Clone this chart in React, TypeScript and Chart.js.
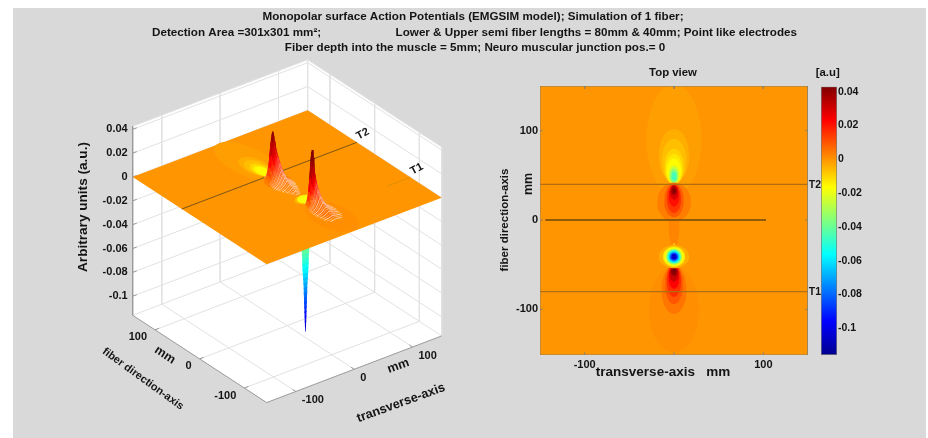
import React, { useEffect, useRef } from "react";
import { Chart, registerables } from "chart.js";

Chart.register(...registerables);

// ---------- data ----------
const titleLines = [
  "Monopolar surface Action Potentials (EMGSIM model); Simulation of 1 fiber;",
  "Detection Area =301x301 mm²;",
  "Lower & Upper semi fiber lengths = 80mm & 40mm; Point like electrodes",
  "Fiber depth into the muscle = 5mm; Neuro muscular junction pos.= 0",
];
const zTicks = [0.04, 0.02, 0, -0.02, -0.04, -0.06, -0.08, -0.1];
const zTickLabels = ["0.04", "0.02", "0", "-0.02", "-0.04", "-0.06", "-0.08", "-0.1"];
const planTicks = [-100, 0, 100];
const colorTicks = [0.04, 0.02, 0, -0.02, -0.04, -0.06, -0.08, -0.1];
const colorTickLabels = ["0.04", "0.02", "0", "-0.02", "-0.04", "-0.06", "-0.08", "-0.1"];
const topXLabels = [-100, 100];
const topYLabels = [100, 0, -100];
const zMin = -0.116;
const zMax = 0.0425;
const colorMin = -0.1158;
const colorMax = 0.043;
const t1Pos = -80;
const t2Pos = 40;
const zeroLineX = [-144, 103];

const jetFractions = [0, 0.125, 0.375, 0.625, 0.875, 1];
const jetColors = [
  [0, 0, 143],
  [0, 0, 255],
  [0, 255, 255],
  [255, 255, 0],
  [255, 0, 0],
  [128, 0, 0],
];

// contour lobes of the field, in paint order
const lobeY = [90, 72, 66, 60, 57, 55, 51, 49.5, 49, 20, -5, 22, 24, 27, 31, 33, 33, -100, -78, -72, -68, -64, -60, -57, -56, -32, -41, -41, -41, -41, -41, -41, -41, -41];
const lobeRx = [31, 17, 14, 11, 9.5, 8, 6, 4.5, 3, 19, 6, 11, 8, 6, 4.5, 3.5, 2, 28, 14, 10, 8, 6, 5, 3.5, 2, 2.5, 17, 12.5, 11, 9, 7.5, 6, 4.5, 3];
const lobeRy = [62, 30, 25, 20, 17, 14, 10, 8, 5, 22, 26, 19, 16, 12, 8, 5, 3, 48, 27, 22, 18, 13, 9, 5.5, 3, 6, 13, 11.5, 10.5, 9, 7.5, 6, 4.5, 3];
const lobeV = [-0.0015, -0.004, -0.0065, -0.0095, -0.013, -0.016, -0.024, -0.035, -0.045, 0.0035, 0.0025, 0.009, 0.015, 0.021, 0.029, 0.036, 0.042, 0.001, 0.005, 0.01, 0.016, 0.023, 0.031, 0.04, 0.044, -0.008, -0.004, -0.012, -0.018, -0.03, -0.05, -0.065, -0.085, -0.105];

// ridge crests seen in the 3-D view
const peak1Y = [41, 40, 39, 38, 37, 36, 35, 34, 33, 32, 31, 30, 28, 26, 24, 22, 20, 18, 16, 14, 12, 10, 8, 6, 4, 2, 0, -3, -6, -9, -12, -15, -18, -21, -24];
const peak1Z = [0.002, 0.006, 0.012, 0.018, 0.024, 0.029, 0.033, 0.036, 0.038, 0.039, 0.038, 0.036, 0.032, 0.028, 0.025, 0.022, 0.02, 0.018, 0.016, 0.014, 0.012, 0.011, 0.0095, 0.0085, 0.0075, 0.0065, 0.0055, 0.0045, 0.0038, 0.0032, 0.0026, 0.002, 0.0015, 0.001, 0.0005];
const peak1W = [7, 8, 8, 9, 9, 9, 9, 9, 9, 9, 9, 10, 11, 12, 14, 15, 15, 16, 16, 17, 17, 17, 17, 17, 16, 16, 15, 14, 13, 12, 10, 9, 7, 6, 4];
const peak2Y = [-49, -50, -51, -52, -53, -54, -55, -56, -57, -58, -59, -60, -62, -64, -66, -68, -70, -72, -75, -78, -81, -84, -87, -90, -94, -98, -102, -106, -110];
const peak2Z = [0.002, 0.006, 0.014, 0.024, 0.033, 0.039, 0.043, 0.045, 0.043, 0.039, 0.035, 0.031, 0.026, 0.022, 0.019, 0.0165, 0.0145, 0.0125, 0.0105, 0.009, 0.0075, 0.006, 0.005, 0.004, 0.003, 0.0022, 0.0016, 0.0012, 0.0008];
const peak2W = [6, 7, 8, 8, 8, 9, 9, 9, 9, 9, 10, 10, 11, 12, 14, 15, 15, 16, 16, 17, 17, 17, 17, 17, 16, 15, 15, 13, 10];
const ridgeFrac = [-1, -0.75, -0.5, -0.3, -0.15, 0, 0.15, 0.3, 0.5, 0.75, 1];
const ridgeLift = [0, 0.08, 0.25, 0.5, 0.8, 1, 0.8, 0.5, 0.25, 0.08, 0];

// negative spike under the sheet
const spikeZ = [-0.002, -0.006, -0.01, -0.014, -0.018, -0.022, -0.026, -0.03, -0.034, -0.038, -0.042, -0.046, -0.05, -0.054, -0.058, -0.062, -0.066, -0.07, -0.074, -0.078, -0.082, -0.086, -0.09, -0.094, -0.098, -0.102, -0.106, -0.11];
const spikeW = [9, 8.5, 8, 8, 7.5, 7.5, 7, 7, 7, 6.5, 6.5, 6, 5.5, 5.5, 5, 4.5, 4, 3.5, 3, 3, 2.5, 2.5, 2, 1.8, 1.5, 1.2, 0.9, 0.5];

// ---------- helpers ----------
const WHITE = [255, 255, 255];
const mix = (a: number[], b: number[], t: number) => a.map((v, i) => v + (b[i] - v) * t);
const rgb = (c: number[]) => `rgb(${c.map((v) => Math.round(v)).join(",")})`;
function jet(v: number) {
  const f = Math.min(1, Math.max(0, (v - colorMin) / (colorMax - colorMin)));
  for (let i = 0; i < jetFractions.length - 1; i++) {
    if (f <= jetFractions[i + 1]) {
      return mix(jetColors[i], jetColors[i + 1], (f - jetFractions[i]) / (jetFractions[i + 1] - jetFractions[i]));
    }
  }
  return jetColors[jetColors.length - 1];
}
const jetCss = (v: number) => rgb(jet(v));

// oblique view of the 3-D axes, expressed in page pixels
const project = (X: number, Y: number, z: number) => ({
  x: 287.17 + X * 0.5833 - Y * 0.4467,
  y: 187.33 - X * 0.2222 - Y * 0.291 - z * 1192,
});
const ellipse = (yc: number, rx: number, ry: number) => {
  const pts: { X: number; Y: number }[] = [];
  for (let i = 0; i < 40; i++) {
    const a = (i / 40) * Math.PI * 2;
    pts.push({ X: rx * Math.cos(a), Y: yc + ry * Math.sin(a) });
  }
  return pts;
};
const GAP = { x: NaN, y: NaN };
const polyline = (data: any[], color: string, width: number) => ({
  data,
  showLine: true,
  fill: false,
  borderColor: color,
  borderWidth: width,
  pointRadius: 0,
  tension: 0,
});
const polygon = (data: any[], color: string) => ({
  data,
  showLine: true,
  fill: "shape",
  backgroundColor: color,
  borderWidth: 0,
  borderColor: "transparent",
  pointRadius: 0,
  tension: 0,
});

type Label = { t: string; x: number; y: number; f: string; a?: CanvasTextAlign; r?: number; c?: string };
const textPlugin = (items: Label[]) => ({
  id: "pageText",
  afterDraw(chart: any) {
    const ctx = chart.ctx;
    for (const l of items) {
      ctx.save();
      ctx.translate(l.x, l.y);
      if (l.r) ctx.rotate((l.r * Math.PI) / 180);
      ctx.font = l.f;
      ctx.textAlign = l.a || "center";
      ctx.textBaseline = "middle";
      ctx.fillStyle = l.c || "#141414";
      ctx.fillText(l.t, 0, 0);
      ctx.restore();
    }
  },
});

const SANS = '"Liberation Sans", Arial, sans-serif';
const F_TITLE = `bold 11.65px ${SANS}`;
const F_TICK = `bold 11px ${SANS}`;
const F_SMALL = `bold 11.4px ${SANS}`;

// ---------- 3-D panel ----------
function sceneConfig() {
  const ds: any[] = [];
  const e = 150;
  const corner = (X: number, Y: number, z: number) => project(X, Y, z);

  ds.push(
    polygon(
      [corner(-e, e, zMax), corner(e, e, zMax), corner(e, -e, zMax), corner(e, -e, zMin), corner(-e, -e, zMin), corner(-e, e, zMin)],
      "#ffffff"
    )
  );

  const grid: any[] = [];
  for (const z of [...zTicks, zMax, zMin]) grid.push(corner(-e, e, z), corner(e, e, z), corner(e, -e, z), GAP);
  for (const p of planTicks) {
    grid.push(corner(p, e, zMax), corner(p, e, zMin), GAP);
    grid.push(corner(e, p, zMax), corner(e, p, zMin), GAP);
    grid.push(corner(p, -e, zMin), corner(p, e, zMin), GAP);
    grid.push(corner(-e, p, zMin), corner(e, p, zMin), GAP);
  }
  grid.push(corner(e, e, zMax), corner(e, e, zMin), GAP);
  grid.push(corner(e, -e, zMax), corner(e, -e, zMin), GAP);
  ds.push(polyline(grid, "#e2e2e2", 1));

  const axes: any[] = [corner(-e, e, zMax), corner(-e, e, zMin), corner(-e, -e, zMin), corner(e, -e, zMin), GAP];
  for (const z of zTicks) axes.push(corner(-e, e, z), corner(-e + 7, e, z), GAP);
  for (const p of planTicks) {
    axes.push(corner(p, -e, zMin), corner(p, -e + 7, zMin), GAP);
    axes.push(corner(-e, p, zMin), corner(-e + 7, p, zMin), GAP);
  }
  ds.push(polyline(axes, "#9a9a9a", 1));

  for (let i = 0; i < spikeZ.length - 1; i++) {
    ds.push(
      polygon(
        [
          project(-spikeW[i], -41, spikeZ[i]),
          project(spikeW[i], -41, spikeZ[i]),
          project(spikeW[i + 1], -41, spikeZ[i + 1] - 0.001),
          project(-spikeW[i + 1], -41, spikeZ[i + 1] - 0.001),
        ],
        jetCss(spikeZ[i])
      )
    );
  }

  ds.push(polygon([corner(-e, e, 0), corner(e, e, 0), corner(e, -e, 0), corner(-e, -e, 0)], jetCss(0)));
  lobeV.forEach((v, i) => {
    if (v < -0.02 || v > 0.006) return;
    ds.push(polygon(ellipse(lobeY[i], lobeRx[i], lobeRy[i]).map((p) => project(p.X, p.Y, 0)), jetCss(v)));
  });

  ds.push(polyline([project(-e, t2Pos, 0), project(e, t2Pos, 0)], "#7d5512", 1));
  ds.push(polyline([project(110, t1Pos, 0), project(e, t1Pos, 0)], "#e08e08", 1));

  const addRidge = (Ys: number[], Zs: number[], Ws: number[]) => {
    Ys.forEach((Y, i) => {
      const pts = ridgeFrac.map((f, j) => project(f * Ws[i], Y, Zs[i] * ridgeLift[j]));
      const pale = Math.max(0, Math.min(1, (0.026 - Zs[i]) / 0.018));
      ds.push({
        ...polygon(pts, rgb(mix(jet(Zs[i] * 0.5 + 0.002), WHITE, pale * 0.5))),
        borderWidth: 1,
        segment: {
          borderColor: (c: any) => {
            const h = Zs[i] * Math.max(ridgeLift[c.p0DataIndex], ridgeLift[c.p1DataIndex]);
            return rgb(mix(jet(h * 0.95 + 0.004), WHITE, pale * (i % 2 ? 0.4 : 0.68)));
          },
        },
      });
    });
  };
  addRidge(peak1Y, peak1Z, peak1W);
  addRidge(peak2Y, peak2Z, peak2W);

  const labels: Label[] = [
    { t: titleLines[0], x: 473, y: 16.5, f: F_TITLE },
    { t: titleLines[1], x: 152, y: 32.5, f: F_TITLE, a: "left" },
    { t: titleLines[2], x: 797, y: 32.5, f: F_TITLE, a: "right" },
    { t: titleLines[3], x: 475, y: 47.5, f: F_TITLE },
    { t: "Arbitrary units (a.u.)", x: 83, y: 207, f: `bold 13.6px ${SANS}`, r: -90 },
    { t: "fiber direction-axis", x: 143, y: 379, f: `bold 10.9px ${SANS}`, r: 36 },
    { t: "mm", x: 165, y: 355, f: `bold 12.5px ${SANS}`, r: 33 },
    { t: "transverse-axis", x: 401, y: 403, f: `bold 12.7px ${SANS}`, r: -20 },
    { t: "mm", x: 398.3, y: 366, f: `bold 12.5px ${SANS}`, r: -20 },
    { t: "T2", x: 362.7, y: 134, f: F_TICK, r: -28 },
    { t: "T1", x: 416.7, y: 169, f: F_TICK, r: -28 },
  ];
  zTicks.forEach((z, i) => {
    const p = corner(-e, e, z);
    labels.push({ t: zTickLabels[i], x: p.x - 5, y: p.y, f: F_TICK, a: "right" });
  });
  planTicks.forEach((v) => {
    const a = corner(-e, v, zMin);
    labels.push({ t: String(v), x: a.x - 8, y: a.y + 7.5, f: F_TICK, a: "right" });
    const b = corner(v, -e, zMin);
    labels.push({ t: String(v), x: b.x + 6, y: b.y + 8.5, f: F_TICK, a: "left" });
  });

  return {
    type: "scatter",
    data: { datasets: ds.reverse() },
    options: {
      responsive: false,
      animation: false,
      events: [],
      layout: { padding: 0 },
      plugins: { legend: { display: false }, tooltip: { enabled: false }, title: { display: false } },
      scales: {
        x: { type: "linear", display: false, min: 0, max: 928 },
        y: { type: "linear", display: false, min: 0, max: 438, reverse: true },
      },
    },
    plugins: [textPlugin(labels)],
  };
}

// ---------- top view panel ----------
function topConfig() {
  const ds: any[] = [];
  const e = 150;
  const B = -151;
  ds.push(polygon([{ x: -e, y: e }, { x: e, y: e }, { x: e, y: B }, { x: -e, y: B }], jetCss(0)));
  lobeV.forEach((v, i) => {
    ds.push(polygon(ellipse(lobeY[i], lobeRx[i], lobeRy[i]).map((p) => ({ x: p.X, y: p.Y })), jetCss(v)));
  });
  ds.push(polyline([{ x: -e, y: t2Pos }, { x: e, y: t2Pos }], "#b06e10", 1.3));
  ds.push(polyline([{ x: -e, y: t1Pos }, { x: e, y: t1Pos }], "#b06e10", 1.3));
  ds.push(polyline([{ x: zeroLineX[0], y: 0 }, { x: zeroLineX[1], y: 0 }], "#6b4a10", 1.6));
  const frame: any[] = [{ x: -e, y: e }, { x: e, y: e }, { x: e, y: B }, { x: -e, y: B }, { x: -e, y: e }, GAP];
  for (const p of planTicks) {
    frame.push({ x: p, y: B }, { x: p, y: B + 3 }, GAP, { x: p, y: e }, { x: p, y: e - 3 }, GAP);
    frame.push({ x: -e, y: p }, { x: -e + 3, y: p }, GAP, { x: e, y: p }, { x: e - 3, y: p }, GAP);
  }
  ds.push(polyline(frame, "#8c8068", 1));

  const labels: Label[] = [
    { t: "Top view", x: 673, y: 72.5, f: F_SMALL },
    { t: "[a.u]", x: 827.7, y: 73, f: F_SMALL },
    { t: "fiber direction-axis", x: 505, y: 220, f: `bold 11.5px ${SANS}`, r: -90 },
    { t: "mm", x: 529, y: 184, f: `bold 12.5px ${SANS}`, r: -90 },
    { t: "T2", x: 815, y: 185, f: `bold 10.5px ${SANS}` },
    { t: "T1", x: 815, y: 292, f: `bold 10.5px ${SANS}` },
    { t: "transverse-axis   mm", x: 663, y: 372, f: `bold 13.5px ${SANS}` },
  ];

  return {
    type: "scatter",
    data: { datasets: ds.reverse() },
    options: {
      responsive: false,
      animation: false,
      events: [],
      layout: { padding: { left: 500, right: 120, top: 86, bottom: 53 } },
      plugins: { legend: { display: false }, tooltip: { enabled: false }, title: { display: false } },
      scales: {
        x: {
          type: "linear",
          min: -e,
          max: e,
          grid: { display: false, drawTicks: false },
          border: { display: false },
          afterFit: (s: any) => { s.height = 30; },
          afterBuildTicks: (s: any) => { s.ticks = topXLabels.map((value) => ({ value })); },
          ticks: { font: { family: SANS, size: 11, weight: "bold" }, color: "#141414", padding: 3, maxRotation: 0, autoSkip: false },
        },
        y: {
          type: "linear",
          min: B,
          max: e,
          grid: { display: false, drawTicks: false },
          border: { display: false },
          afterFit: (s: any) => { s.width = 40; },
          afterBuildTicks: (s: any) => { s.ticks = topYLabels.map((value) => ({ value })); },
          ticks: { font: { family: SANS, size: 11, weight: "bold" }, color: "#141414", padding: 2, autoSkip: false },
        },
      },
    },
    plugins: [textPlugin(labels)],
  };
}

// ---------- colour bar ----------
function barConfig() {
  return {
    type: "bar",
    data: {
      labels: ["field"],
      datasets: [
        {
          data: [[colorMin, colorMax]],
          barPercentage: 1,
          categoryPercentage: 1,
          borderWidth: 1,
          borderColor: "#7a7a7a",
          borderSkipped: false,
          backgroundColor: (c: any) => {
            const g = c.chart.ctx.createLinearGradient(0, 355, 0, 86.7);
            jetFractions.forEach((f, i) => g.addColorStop(f, rgb(jetColors[i])));
            return g;
          },
        },
      ],
    },
    options: {
      responsive: false,
      animation: false,
      events: [],
      layout: { padding: { left: 821, right: 51, top: 86.7, bottom: 83 } },
      plugins: { legend: { display: false }, tooltip: { enabled: false }, title: { display: false } },
      scales: {
        x: { display: false },
        y: {
          type: "linear",
          position: "right",
          min: colorMin,
          max: colorMax,
          grid: { display: false, drawTicks: false },
          border: { display: false },
          afterFit: (s: any) => { s.width = 40; },
          afterBuildTicks: (s: any) => { s.ticks = colorTicks.map((value) => ({ value })); },
          ticks: {
            font: { family: SANS, size: 10.5, weight: "bold" },
            color: "#141414",
            padding: 1,
            autoSkip: false,
            callback: (v: number) => colorTickLabels[colorTicks.findIndex((t) => Math.abs(t - v) < 1e-9)],
          },
        },
      },
    },
  };
}

const layer: React.CSSProperties = { position: "absolute", left: 0, top: 0 };

export default function App() {
  const a = useRef<HTMLCanvasElement>(null);
  const b = useRef<HTMLCanvasElement>(null);
  const c = useRef<HTMLCanvasElement>(null);
  useEffect(() => {
    const charts = [
      new Chart(a.current as any, sceneConfig() as any),
      new Chart(b.current as any, topConfig() as any),
      new Chart(c.current as any, barConfig() as any),
    ];
    return () => charts.forEach((ch) => ch.destroy());
  }, []);
  return (
    <div style={{ position: "absolute", left: 0, top: 0, width: 928, height: 438, background: "#fff", overflow: "hidden" }}>
      <div style={{ position: "absolute", left: 13, top: 8, width: 913, height: 430, background: "#d9d9d9" }} />
      <div style={{ ...layer, width: 928, height: 438, filter: "blur(0.65px)" }}>
        <canvas ref={a} width={928} height={438} style={layer} />
        <canvas ref={b} width={928} height={438} style={layer} />
        <canvas ref={c} width={928} height={438} style={layer} />
      </div>
    </div>
  );
}
